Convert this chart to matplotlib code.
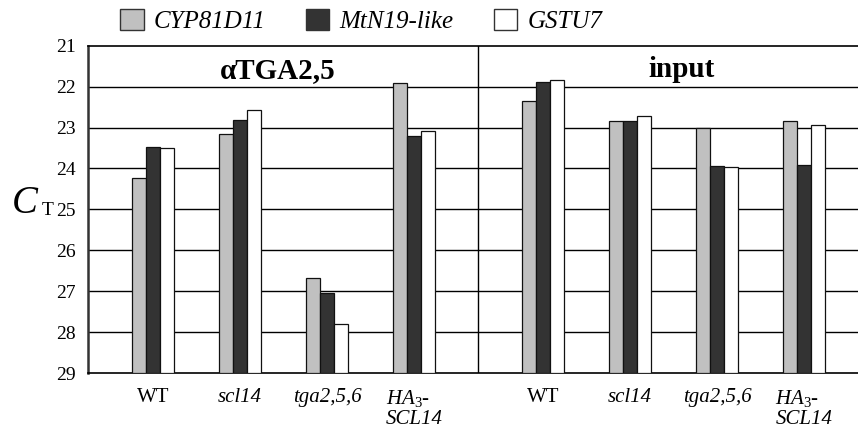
import numpy as np
import matplotlib.pyplot as plt
from matplotlib.patches import Patch

plt.rcParams['font.family'] = ['Liberation Serif', 'DejaVu Serif']
plt.rcParams['mathtext.fontset'] = 'custom'
plt.rcParams['mathtext.rm'] = 'Liberation Serif'
plt.rcParams['mathtext.it'] = 'Liberation Serif:italic'

# Genes and genotypes
genes = ['CYP81D11', 'MtN19-like', 'GSTU7']
lines = ['WT', 'scl14', 'tga2,5,6', r'$\mathit{HA}_{\mathit{3}}$-' + '\nSCL14']
panels = ['αTGA2,5', 'input']

# Ct values, order: WT, scl14, tga2,5,6, HA3-SCL14
tga_cyp = [24.23, 23.15, 26.67, 21.90]
tga_mtn = [23.47, 22.82, 27.04, 23.21]
tga_gst = [23.50, 22.58, 27.81, 23.09]
inp_cyp = [22.34, 22.83, 23.00, 22.83]
inp_mtn = [21.89, 22.83, 23.93, 23.91]
inp_gst = [21.84, 22.72, 23.96, 22.93]

colors = ['#c0c0c0', '#333333', '#ffffff']
y_base = 29

fig = plt.figure(figsize=(8.58, 4.34), dpi=100)
ax = fig.add_axes([88/858, 1 - 373/434, 779.5/858, 327.3/434])

left_x = np.arange(4)
right_x = np.arange(4) + 4.48
split = 3.73
w = 0.16

series_left = [tga_cyp, tga_mtn, tga_gst]
series_right = [inp_cyp, inp_mtn, inp_gst]
for k in range(3):
    for xs, vals in [(left_x, series_left[k]), (right_x, series_right[k])]:
        v = np.array(vals)
        ax.bar(xs + (k - 1)*w, v - y_base, bottom=y_base, width=w,
               color=colors[k], edgecolor='#111111', linewidth=0.9, zorder=3)

ax.set_ylim(29, 21)
ax.set_xlim(-0.75, split + 4.48)
ax.set_yticks(range(21, 30))
for yv in range(22, 29):
    ax.axhline(yv, color='black', lw=1.0, zorder=1)
ax.axvline(split, color='black', lw=1.0, zorder=2)

ax.spines['right'].set_visible(False)
ax.spines['top'].set_linewidth(1.2)
ax.spines['left'].set_linewidth(1.8)
ax.spines['left'].set_color('#333333')
ax.spines['bottom'].set_linewidth(1.2)

ax.tick_params(axis='y', length=0, pad=9, labelsize=14)
ax.tick_params(axis='x', length=0, pad=11, labelsize=15)
ax.set_xticks(np.concatenate([left_x, right_x]), lines + lines)
for i, lab in enumerate(ax.get_xticklabels()):
    lab.set_multialignment('left')
    lab.set_linespacing(1.05)
    if i % 4 != 0:
        lab.set_fontstyle('italic')

ax.text(1.43, 21.8, panels[0], ha='center', va='baseline',
        fontsize=21, fontweight='bold')
ax.text(6.07, 21.76, panels[1], ha='center', va='baseline',
        fontsize=21, fontweight='bold')

# axis label C_T
fig.text(12/858, 1 - 213/434, 'C', fontsize=28, fontstyle='italic',
         ha='left', va='baseline')
fig.text(42/858, 1 - 215/434, 'T', fontsize=14, ha='left', va='baseline')

handles = [Patch(facecolor=c, edgecolor='#333333', linewidth=1.0) for c in colors]
fig.legend(handles, genes, loc='center left',
           bbox_to_anchor=(120/858, 1 - 21/434), ncol=3, frameon=False,
           borderaxespad=0, borderpad=0, handlelength=0.95, handleheight=0.95,
           handletextpad=0.4, columnspacing=1.6,
           prop={'family': 'Liberation Serif', 'style': 'italic', 'size': 18})

fig.savefig('out.png', dpi=100)
